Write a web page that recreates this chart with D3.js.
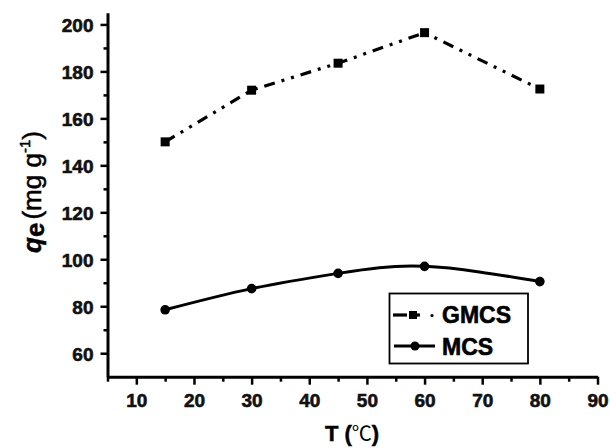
<!DOCTYPE html>
<html>
<head>
<meta charset="utf-8">
<script src="https://cdn.jsdelivr.net/npm/d3@7"></script>
<style>
  body { margin: 0; background: #fff; }
  text { font-family: "Liberation Sans", Arial, sans-serif; }
</style>
</head>
<body>
<div id="chart"></div>
<script>
// Data
const temps = [15, 30, 45, 60, 80];
const gmcsValues = [150, 172, 183.5, 196.5, 172.5];
const mcsValues = [78.5, 87.5, 94, 97, 90.5];
const xTicks = [10, 20, 30, 40, 50, 60, 70, 80, 90];
const yTicks = [60, 80, 100, 120, 140, 160, 180, 200];

const W = 610, H = 448;
const svg = d3.select("#chart").append("svg").attr("width", W).attr("height", H);

// Scales
const xScale = d3.scaleLinear().domain([5, 90]).range([107.5, 597.5]);
const yScale = d3.scaleLinear().domain([50, 205]).range([376.7, 12.7]);

// Axes: major ticks with labels, minor ticks separately
svg.append("g").attr("transform", `translate(0,${yScale(50)})`)
  .call(d3.axisBottom(xScale).tickValues(xTicks).tickSize(8).tickSizeOuter(0).tickPadding(9));
svg.append("g").attr("transform", `translate(0,${yScale(50)})`)
  .call(d3.axisBottom(xScale).tickValues(d3.range(5, 90, 10)).tickSize(5).tickFormat(""))
  .select(".domain").remove();

const yAxis = svg.append("g").attr("transform", `translate(${xScale(5)},0)`)
  .call(d3.axisLeft(yScale).tickValues(yTicks).tickSize(7).tickSizeOuter(0).tickPadding(7));
svg.append("g").attr("transform", `translate(${xScale(5)},0)`)
  .call(d3.axisLeft(yScale).tickValues(d3.range(70, 200, 20)).tickSize(4).tickFormat(""))
  .select(".domain").remove();

svg.selectAll(".domain").attr("stroke", "#000").attr("stroke-width", 3);
svg.selectAll(".tick line").attr("stroke", "#000").attr("stroke-width", 2.5);
svg.selectAll(".tick text")
  .attr("fill", "#111")
  .attr("stroke", "#111")
  .attr("stroke-width", 0.6)
  .style("font-size", "19px")
  .style("font-weight", "bold");
yAxis.selectAll(".tick text").attr("dy", "0.36em");

// Axis titles
const xTitle = svg.append("text")
  .attr("x", 352).attr("y", 441)
  .attr("text-anchor", "middle")
  .attr("stroke", "#000").attr("stroke-width", 0.5)
  .style("font-size", "22px").style("font-weight", "bold");
xTitle.append("tspan").text("T (");
xTitle.append("tspan").attr("stroke-width", 0)
  .style("font-weight", "normal").style("font-family", "'Noto Sans CJK SC', sans-serif")
  .style("font-size", "20px").text("℃");
xTitle.append("tspan").text(")");

const yTitle = svg.append("text")
  .attr("transform", "translate(41,192) rotate(-90)")
  .attr("text-anchor", "middle")
  .attr("stroke", "#000").attr("stroke-width", 0.5)
  .style("font-size", "26px");
yTitle.append("tspan").style("font-style", "italic").style("font-weight", "bold").text("q");
yTitle.append("tspan").style("font-weight", "bold").attr("dy", 3).text("e");
yTitle.append("tspan").attr("dy", -3).attr("dx", 3).text("(mg g");
yTitle.append("tspan").attr("dy", -11).style("font-size", "15px").text("-1");
yTitle.append("tspan").attr("dy", 11).text(")");

// Series
const gmcsData = temps.map((t, i) => ({ t, v: gmcsValues[i] }));
const mcsData = temps.map((t, i) => ({ t, v: mcsValues[i] }));

const lineLinear = d3.line().x((d) => xScale(d.t)).y((d) => yScale(d.v));
const lineSmooth = d3.line().x((d) => xScale(d.t)).y((d) => yScale(d.v)).curve(d3.curveNatural);

svg.append("path").datum(gmcsData)
  .attr("d", lineLinear)
  .attr("fill", "none").attr("stroke", "#000").attr("stroke-width", 3.2)
  .attr("stroke-dasharray", "11,7,3,7,3,7");

svg.append("path").datum(mcsData)
  .attr("d", lineSmooth)
  .attr("fill", "none").attr("stroke", "#000").attr("stroke-width", 3);

svg.selectAll(".sq").data(gmcsData).enter().append("rect")
  .attr("class", "sq")
  .attr("x", (d) => xScale(d.t) - 4.5).attr("y", (d) => yScale(d.v) - 4.5)
  .attr("width", 9).attr("height", 9).attr("fill", "#000");

svg.selectAll(".dot").data(mcsData).enter().append("circle")
  .attr("class", "dot")
  .attr("cx", (d) => xScale(d.t)).attr("cy", (d) => yScale(d.v))
  .attr("r", 4.8).attr("fill", "#000");

// Legend
const legend = svg.append("g");
legend.append("rect")
  .attr("x", 389.5).attr("y", 293.5).attr("width", 138.5).attr("height", 70)
  .attr("fill", "#fff").attr("stroke", "#000").attr("stroke-width", 1.8);

legend.append("line").attr("x1", 393).attr("x2", 407).attr("y1", 315).attr("y2", 315)
  .attr("stroke", "#000").attr("stroke-width", 3.2);
legend.append("rect").attr("x", 409).attr("y", 311).attr("width", 8).attr("height", 8).attr("fill", "#000");
legend.append("line").attr("x1", 417).attr("x2", 420).attr("y1", 315).attr("y2", 315)
  .attr("stroke", "#000").attr("stroke-width", 3.2);
legend.append("circle").attr("cx", 432).attr("cy", 315.5).attr("r", 1.6).attr("fill", "#000");
legend.append("line").attr("x1", 394).attr("x2", 435).attr("y1", 346).attr("y2", 346)
  .attr("stroke", "#000").attr("stroke-width", 3);
legend.append("circle").attr("cx", 415).attr("cy", 346).attr("r", 4.5).attr("fill", "#000");

legend.append("text").attr("x", 442).attr("y", 323)
  .attr("stroke", "#000").attr("stroke-width", 0.6)
  .style("font-size", "23px").style("font-weight", "bold").text("GMCS");
legend.append("text").attr("x", 442).attr("y", 355)
  .attr("stroke", "#000").attr("stroke-width", 0.6)
  .style("font-size", "23px").style("font-weight", "bold").text("MCS");
</script>
</body>
</html>
